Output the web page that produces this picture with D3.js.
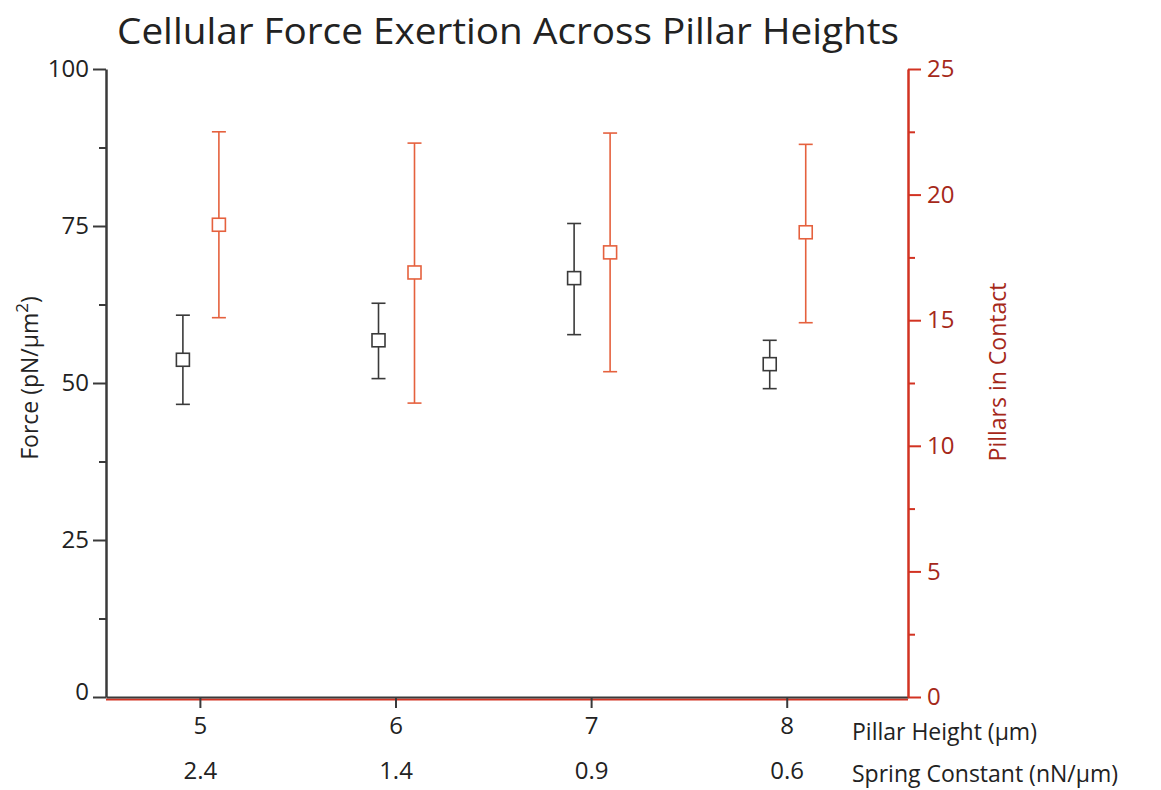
<!DOCTYPE html>
<html>
<head>
<meta charset="utf-8">
<script src="https://cdn.jsdelivr.net/npm/d3@7"></script>
<style>
  body { margin: 0; background: #fff; }
  text { font-family: "Open Sans", "Noto Sans", sans-serif; }
</style>
</head>
<body>
<script>
// data
var heights = [5, 6, 7, 8];
var springConst = ["2.4", "1.4", "0.9", "0.6"];
var forceMean = [53.7, 56.8, 66.7, 53.0];
var forceHi = [60.8, 62.7, 75.4, 56.8];
var forceLo = [46.6, 50.7, 57.7, 49.1];
var pillarsMean = [18.8, 16.9, 17.7, 18.5];
var pillarsHi = [22.5, 22.05, 22.45, 22.0];
var pillarsLo = [15.1, 11.7, 12.95, 14.9];
var forceTicks = [0, 25, 50, 75, 100];
var forceMinor = [12.5, 37.5, 62.5, 87.5];
var pillarTicks = [0, 5, 10, 15, 20, 25];
var pillarMinor = [2.5, 7.5, 12.5, 17.5, 22.5];

var W = 1161, H = 790;
var pLeft = 106, pRight = 908, pTop = 69, pBottom = 697;
var dark = "#3a3a3a", orange = "#e5613e", red = "#d23322", redText = "#a5281a";

var svg = d3.select("body").append("svg")
    .attr("width", W)
    .attr("height", H);

var x = d3.scaleLinear().domain([4.52, 8.62]).range([pLeft, pRight]);
var yF = d3.scaleLinear().domain([0, 100]).range([pBottom, pTop]);
var yP = d3.scaleLinear().domain([0, 25]).range([pBottom, pTop]);

// title
svg.append("text")
    .attr("x", 508).attr("y", 44)
    .attr("text-anchor", "middle")
    .attr("font-size", 37)
    .attr("fill", "#222")
    .attr("textLength", 782)
    .attr("lengthAdjust", "spacingAndGlyphs")
    .text("Cellular Force Exertion Across Pillar Heights");

// bottom axis (red line underneath, black on top)
svg.append("line")
    .attr("x1", pLeft).attr("x2", pRight)
    .attr("y1", pBottom + 2.5).attr("y2", pBottom + 2.5)
    .attr("stroke", red).attr("stroke-width", 2);

var xAxis = svg.append("g")
    .attr("transform", "translate(0," + pBottom + ")")
    .call(d3.axisBottom(x).tickValues(heights).tickFormat(d3.format("d")).tickSize(11).tickSizeOuter(0).tickPadding(9));
xAxis.select(".domain").attr("stroke", dark).attr("stroke-width", 2);
xAxis.selectAll(".tick line").attr("stroke", dark).attr("stroke-width", 2);
xAxis.selectAll(".tick text").attr("font-size", 24).attr("fill", "#222")
    .attr("font-family", "Open Sans, sans-serif");

var xAxis2 = svg.append("g")
    .attr("transform", "translate(0," + (pBottom + 62) + ")")
    .call(d3.axisBottom(x).tickValues(heights).tickFormat(function (d, i) { return springConst[i]; }).tickSize(0));
xAxis2.select(".domain").remove();
xAxis2.selectAll(".tick text").attr("font-size", 24).attr("fill", "#222")
    .attr("font-family", "Open Sans, sans-serif");

svg.append("text")
    .attr("x", 852).attr("y", 740)
    .attr("font-size", 23).attr("fill", "#222")
    .text("Pillar Height (µm)");
svg.append("text")
    .attr("x", 852).attr("y", 782)
    .attr("font-size", 23).attr("fill", "#222")
    .text("Spring Constant (nN/µm)");

// left axis
var yAxisL = svg.append("g")
    .attr("transform", "translate(" + pLeft + ",0)")
    .call(d3.axisLeft(yF).tickValues(forceTicks).tickSize(13).tickSizeOuter(0).tickPadding(4));
yAxisL.select(".domain").attr("stroke", dark).attr("stroke-width", 2.5);
yAxisL.selectAll(".tick line").attr("stroke", dark).attr("stroke-width", 2);
yAxisL.selectAll(".tick text").attr("font-size", 24).attr("fill", "#222")
    .attr("font-family", "Open Sans, sans-serif");
yAxisL.selectAll(".tick").filter(function (d) { return d === 0; })
    .select("text").attr("dy", "0.1em");

var yMinorL = svg.append("g")
    .attr("transform", "translate(" + pLeft + ",0)")
    .call(d3.axisLeft(yF).tickValues(forceMinor).tickSize(7).tickFormat(""));
yMinorL.select(".domain").remove();
yMinorL.selectAll(".tick line").attr("stroke", dark).attr("stroke-width", 2);

// right axis
var yAxisR = svg.append("g")
    .attr("transform", "translate(" + pRight + ",0)")
    .call(d3.axisRight(yP).tickValues(pillarTicks).tickSize(13).tickSizeOuter(0).tickPadding(6));
yAxisR.select(".domain").attr("stroke", red).attr("stroke-width", 2.5);
yAxisR.selectAll(".tick line").attr("stroke", red).attr("stroke-width", 2);
yAxisR.selectAll(".tick text").attr("font-size", 24).attr("fill", redText)
    .attr("font-family", "Open Sans, sans-serif");

var yMinorR = svg.append("g")
    .attr("transform", "translate(" + pRight + ",0)")
    .call(d3.axisRight(yP).tickValues(pillarMinor).tickSize(7).tickFormat(""));
yMinorR.select(".domain").remove();
yMinorR.selectAll(".tick line").attr("stroke", red).attr("stroke-width", 2);

// axis titles
var ft = svg.append("text")
    .attr("transform", "translate(38,378) rotate(-90)")
    .attr("text-anchor", "middle")
    .attr("font-size", 23).attr("fill", "#222");
ft.append("tspan").text("Force (pN/µm");
ft.append("tspan").attr("font-size", 17).attr("dy", -10).text("2");
ft.append("tspan").attr("dy", 10).text(")");

svg.append("text")
    .attr("transform", "translate(1006,372) rotate(-90)")
    .attr("text-anchor", "middle")
    .attr("font-size", 23).attr("fill", redText)
    .text("Pillars in Contact");

// error bars + markers
function drawSeries(mean, hi, lo, yScale, dx, color) {
    var data = heights.map(function (h, i) { return {h: h, m: mean[i], hi: hi[i], lo: lo[i]}; });
    var g = svg.append("g");
    var cap = 7, s = 13;

    g.selectAll("line.stem").data(data).enter().append("line")
        .attr("x1", function (d) { return x(d.h) + dx; })
        .attr("x2", function (d) { return x(d.h) + dx; })
        .attr("y1", function (d) { return yScale(d.hi); })
        .attr("y2", function (d) { return yScale(d.lo); })
        .attr("stroke", color).attr("stroke-width", 1.6);

    g.selectAll("line.capT").data(data).enter().append("line")
        .attr("x1", function (d) { return x(d.h) + dx - cap; })
        .attr("x2", function (d) { return x(d.h) + dx + cap; })
        .attr("y1", function (d) { return yScale(d.hi); })
        .attr("y2", function (d) { return yScale(d.hi); })
        .attr("stroke", color).attr("stroke-width", 1.6);

    g.selectAll("line.capB").data(data).enter().append("line")
        .attr("x1", function (d) { return x(d.h) + dx - cap; })
        .attr("x2", function (d) { return x(d.h) + dx + cap; })
        .attr("y1", function (d) { return yScale(d.lo); })
        .attr("y2", function (d) { return yScale(d.lo); })
        .attr("stroke", color).attr("stroke-width", 1.6);

    g.selectAll("rect").data(data).enter().append("rect")
        .attr("x", function (d) { return x(d.h) + dx - s / 2; })
        .attr("y", function (d) { return yScale(d.m) - s / 2; })
        .attr("width", s).attr("height", s)
        .attr("fill", "#fff")
        .attr("stroke", color).attr("stroke-width", 1.6);
}

drawSeries(forceMean, forceHi, forceLo, yF, -17, dark);
drawSeries(pillarsMean, pillarsHi, pillarsLo, yP, 19, orange);
</script>
</body>
</html>
